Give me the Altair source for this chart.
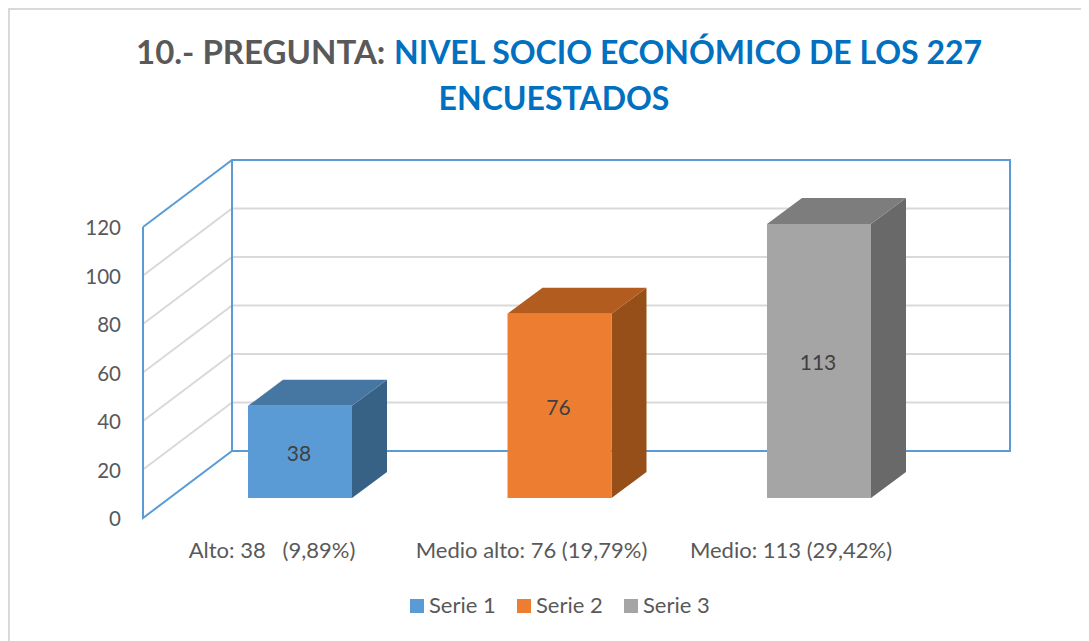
import altair as alt
import pandas as pd

# ---- chart values ----
series = ["Serie 1", "Serie 2", "Serie 3"]
values = [38, 76, 113]
category_labels = ["Alto: 38\u00a0\u00a0 (9,89%)", "Medio alto: 76 (19,79%)", "Medio: 113 (29,42%)"]
y_ticks = [0, 20, 40, 60, 80, 100, 120]
front_colors = ["#5b9bd5", "#ed7d31", "#a5a5a5"]
top_colors = ["#4676a2", "#b35c20", "#7d7d7d"]
side_colors = ["#376286", "#964f19", "#696969"]

# ---- pseudo-3D geometry, in data units ----
VIEW_W, VIEW_H = 1073, 633
X_PX, Y_PX = 259.5, 2.425            # pixels per category / per value
X0_PAGE, Y0_PAGE = 300, 518          # page position of category 0 / value 0
x_domain = [(8 - X0_PAGE) / X_PX, (8 + VIEW_W - X0_PAGE) / X_PX]
y_domain = [(Y0_PAGE - 8 - VIEW_H) / Y_PX, (Y0_PAGE - 8) / Y_PX]
xs = alt.Scale(domain=x_domain, nice=False, zero=False)
ys = alt.Scale(domain=y_domain, nice=False, zero=False)

WALL_DX, WALL_DY = 89 / X_PX, 67 / Y_PX
LEFT, RIGHT = (143 - X0_PAGE) / X_PX, (1010 - X0_PAGE) / X_PX
BAR_W = 104 / X_PX
BAR_DX, BAR_DY = 35 / X_PX, 26 / Y_PX
BASE = 20 / Y_PX                     # height of bar front base above front floor corner
YMAX = 120
GRID, EDGE = "#d9d9d9", "#5b9bd5"


def x_enc():
    return alt.X("x:Q", scale=xs, axis=None)


def y_enc():
    return alt.Y("y:Q", scale=ys, axis=None)


def polyline(rows, color, width):
    d = pd.DataFrame(rows, columns=["g", "x", "y"])
    return alt.Chart(d).mark_line(color=color, strokeWidth=width, clip=False).encode(
        x=x_enc(), y=y_enc(), detail="g:N", order="i:Q"
    ).transform_window(i="row_number()", groupby=["g"])


# gridlines: left wall diagonal + back wall horizontal
grid_rows = []
for t in y_ticks[1:-1]:
    grid_rows += [
        (t, LEFT, t),
        (t, LEFT + WALL_DX, t + WALL_DY),
        (t, RIGHT, t + WALL_DY),
    ]
grid = polyline(grid_rows, GRID, 2)

# blue wall edges
b = LEFT + WALL_DX
edge_rows = [
    ("a", LEFT, YMAX), ("a", LEFT, 0), ("a", b, WALL_DY), ("a", RIGHT, WALL_DY),
    ("a", RIGHT, YMAX + WALL_DY), ("a", b, YMAX + WALL_DY), ("a", LEFT, YMAX),
    ("c", b, WALL_DY), ("c", b, YMAX + WALL_DY),
]
edges = polyline(edge_rows, EDGE, 2)

layers = [grid, edges]

# bars
positions = list(range(len(values)))
front = pd.DataFrame({
    "serie": series,
    "x": [p - BAR_W / 2 for p in positions],
    "x2": [p + BAR_W / 2 for p in positions],
    "y": [BASE + v for v in values],
    "y2": [BASE] * 3,
})
for i, (p, v) in enumerate(zip(positions, values)):
    l, r = p - BAR_W / 2, p + BAR_W / 2
    top = BASE + v
    side = pd.DataFrame({
        "x": [r, r + BAR_DX],
        "y": [top, top + BAR_DY],
        "y2": [BASE, BASE + BAR_DY],
    })
    cap = pd.DataFrame({
        "x": [l, l + BAR_DX, r, r + BAR_DX],
        "y": [top, top + BAR_DY, top + BAR_DY, top + BAR_DY],
        "y2": [top, top, top, top + BAR_DY],
    })
    for d, c in ((side, side_colors[i]), (cap, top_colors[i])):
        layers.append(
            alt.Chart(d).mark_area(color=c, line=False, opacity=1).encode(
                x=x_enc(), y=y_enc(), y2="y2:Q"
            )
        )

bars = alt.Chart(front).mark_bar(opacity=1).encode(
    x=x_enc(),
    x2="x2:Q",
    y=y_enc(),
    y2="y2:Q",
    color=alt.Color(
        "serie:N",
        scale=alt.Scale(domain=series, range=front_colors),
        legend=alt.Legend(
            title=None, orient="none", legendX=398, legendY=587, direction="horizontal",
            symbolType="square", symbolSize=196, symbolStrokeWidth=0, labelFontSize=22,
            labelFont="Lato", labelColor="#595959", labelOffset=1, columnPadding=17,
        ),
    ),
)
layers.append(bars)

FONT = "Lato"
value_df = pd.DataFrame({"x": positions, "y": [BASE + v / 2 for v in values], "t": values})
layers.append(
    alt.Chart(value_df).mark_text(font=FONT, fontSize=21, color="#404040", dx=-1, dy=3).encode(
        x=x_enc(), y=y_enc(), text="t:Q"
    )
)

# y axis labels
ylab = pd.DataFrame({"y": y_ticks, "t": [str(t) for t in y_ticks]})
layers.append(
    alt.Chart(ylab).mark_text(font=FONT, fontSize=20.5, color="#595959", align="right", dy=2).encode(
        x=alt.value(113), y=y_enc(), text="t:N"
    )
)

# category labels
cat = pd.DataFrame({"x": [p - 28 / X_PX for p in positions], "t": category_labels})
layers.append(
    alt.Chart(cat).mark_text(font=FONT, fontSize=22, color="#595959").encode(
        x=x_enc(), y=alt.value(543), text="t:N"
    )
)

# title
title_parts = pd.DataFrame({
    "t": ["10.- PREGUNTA:", "NIVEL SOCIO ECONÓMICO DE LOS 227", "ENCUESTADOS"],
    "px": [128, 386, 546],
    "py": [46, 46, 92],
    "al": ["left", "left", "center"],
    "c": ["#595959", "#0070c0", "#0070c0"],
    "fs": [33, 32, 32],
})
for _, r in title_parts.iterrows():
    layers.append(
        alt.Chart(pd.DataFrame({"t": [r.t]})).mark_text(
            font=FONT, fontSize=int(r.fs), fontWeight="bold", color=r.c, align=r.al, baseline="middle"
        ).encode(x=alt.value(int(r.px)), y=alt.value(int(r.py)), text="t:N")
    )

# outer frame (left and top edges; the rest is cut off by the picture)
layers.append(alt.Chart(pd.DataFrame({"a": [0]})).mark_rule(color="#d9d9d9", strokeWidth=2).encode(
    x=alt.value(1), y=alt.value(0), y2=alt.value(VIEW_H)))
layers.append(alt.Chart(pd.DataFrame({"a": [0]})).mark_rule(color="#d9d9d9", strokeWidth=2).encode(
    y=alt.value(1), x=alt.value(0), x2=alt.value(VIEW_W)))

chart = alt.layer(*layers).properties(
    width=VIEW_W, height=VIEW_H, padding=0,
    autosize=alt.AutoSizeParams(type="none"),
).configure_view(stroke=None)

chart.save("out.html", embed_options={"renderer": "svg", "actions": False})
